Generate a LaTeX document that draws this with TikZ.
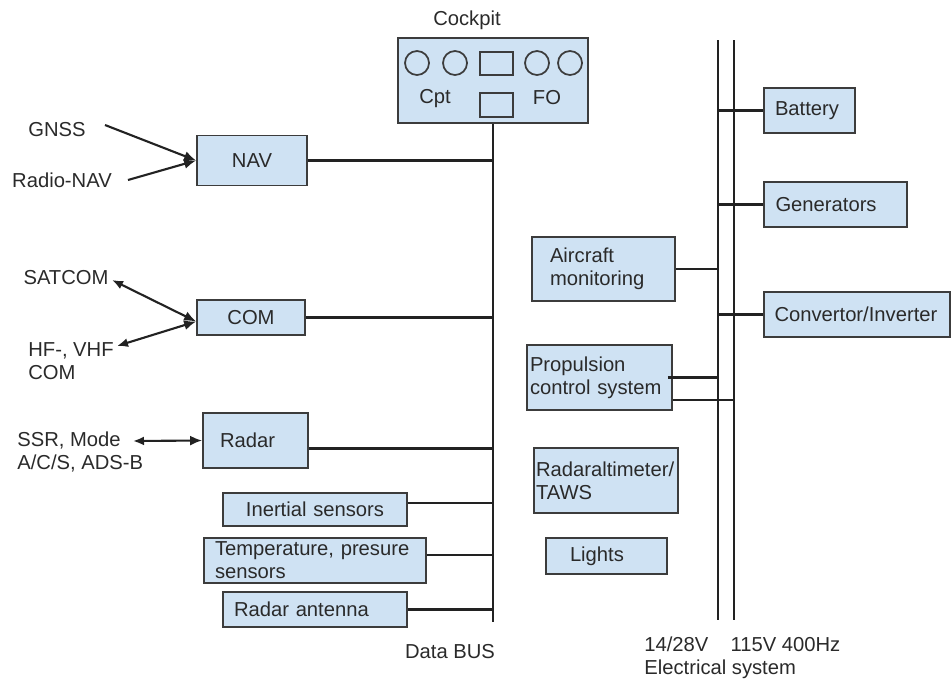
\documentclass[tikz,border=0pt]{standalone}
\usepackage{fontspec}
\setmainfont{Liberation Sans}
\usepackage{tikz}
\usetikzlibrary{positioning,arrows.meta}
\definecolor{boxfill}{HTML}{CFE2F3}
\definecolor{boxline}{HTML}{3C3C3C}
\definecolor{wirecol}{HTML}{222222}
\definecolor{ink}{HTML}{2A2A2A}
\newcommand{\txt}{\fontsize{11.5}{13.1}\selectfont}
\tikzset{
  block/.style={rectangle, draw=boxline, fill=boxfill, line width=1pt,
                font=\txt, text=ink, align=left, inner ysep=0pt},
  knob/.style={circle, draw=boxline, line width=1pt, minimum size=4.8mm, inner sep=0pt},
  screen/.style={rectangle, draw=boxline, line width=1pt, minimum width=6.6mm,
                 minimum height=4.6mm, inner sep=0pt},
  tag/.style={font=\txt, text=ink, align=left, inner sep=0pt},
  wire/.style={draw=wirecol, line width=1.2pt},
  arr/.style={wire, -{Latex[length=2.4mm,width=2mm]}},
  biarr/.style={wire, {Latex[length=2.2mm,width=1.8mm]}-{Latex[length=2.4mm,width=2mm]}},
}

\begin{document}
\begin{tikzpicture}[x=0.2mm, y=-0.2mm]
    \useasboundingbox (0,0) rectangle (951,679);
    % cockpit panel
    \node[tag] (cockpittag) at (467,20) {Cockpit};
    \node[block, minimum width=38mm, minimum height=17mm] (cockpit) at (493,80.5) {};
    \node[knob] (k1) at (417,63) {};
    \node[knob] (k2) at (455,63) {};
    \node[screen] (scr1) at (496.5,63.5) {};
    \node[knob] (k3) at (537,63) {};
    \node[knob] (k4) at (570,63) {};
    \node[screen, minimum height=4.8mm] (scr2) at (496.5,105) {};
    \node[tag] (cpt) at (435,99) {Cpt};
    \node[tag] (fo) at (547,98) {FO};

    % avionics on the data bus
    \node[block, text width=22mm, inner xsep=0pt, align=center, minimum height=10mm] (nav) at (252,160.5) {NAV};
    \node[block, text width=21.6mm, inner xsep=0pt, align=center, minimum height=7mm] (com) at (251,317.5) {COM};
    \node[block, text width=14.2mm, inner xsep=3.4mm, minimum height=11mm] (radar) at (255.5,440.5) {Radar};
    \node[block, text width=36.8mm, inner xsep=0pt, align=center, minimum height=6.6mm] (inertial) at (315,509.5) {Inertial sensors};
    \node[block, text width=40mm, inner xsep=2.2mm, minimum height=9mm] (temp) at (315,560.5) {Temperature, presure\\sensors};
    \node[block, text width=32.4mm, inner xsep=2.2mm, minimum height=7mm] (antenna) at (315,609.5) {Radar antenna};

    \coordinate (busend) at (493,622);
    \node[tag] (databus) at (450,652) {Data BUS};

    % outside links
    \node[tag] (gnss) at (57,130) {GNSS};
    \node[tag] (radionav) at (62,180) {Radio-NAV};
    \node[tag] (satcom) at (66,278) {SATCOM};
    \node[tag, anchor=west] (hfvhf) at (28,361) {HF-, VHF\\COM};
    \node[tag, anchor=west] (ssr) at (17,451.5) {SSR, Mode\\A/C/S, ADS-B};
    \coordinate (gnsstail) at (105,125);
    \coordinate (radiotail) at (128,180);
    \coordinate (sattail) at (112,280);
    \coordinate (hftail) at (117,346);
    \coordinate (ssrtail) at (133,441);

    % electrical side
    \coordinate (lvtop) at (718,40);
    \coordinate (lvbot) at (718,620);
    \coordinate (hvtop) at (734,40);
    \coordinate (hvbot) at (734,620);
    \node[block, text width=13.8mm, inner xsep=2.2mm, minimum height=9mm] (battery) at (809.5,110.5) {Battery};
    \node[block, text width=24mm, inner xsep=2.3mm, minimum height=9mm] (generators) at (835.5,204.5) {Generators};
    \node[block, text width=33mm, inner xsep=2.1mm, minimum height=9mm] (convertor) at (857,314.5) {Convertor/Inverter};
    \node[block, text width=21.4mm, inner xsep=3.6mm, minimum height=12.8mm] (monitoring) at (603.5,269) {Aircraft\\monitoring};
    \node[block, text width=27.8mm, inner xsep=0.6mm, minimum height=13mm] (propulsion) at (599.5,377.5) {Propulsion\\control system};
    \node[block, text width=28mm, inner xsep=0.4mm, minimum height=13mm] (taws) at (606,480.5) {Radaraltimeter/\\TAWS};
    \node[block, text width=14.6mm, inner xsep=4.8mm, minimum height=7.2mm] (lights) at (606.5,556) {\raisebox{-0.6mm}{Lights}};
    \node[tag, anchor=west] (elec) at (644,658) {14/28V\hspace{1.1em}115V 400Hz\\Electrical system};

    % data bus
    \draw[wire] (cockpit.south) -- (busend);
    \draw[wire] (nav.east) -- (nav.east -| busend);
    \draw[wire] (com.east) -- (com.east -| busend);
    \draw[wire] ([yshift=-1.6mm]radar.east) -- ([yshift=-1.6mm]radar.east -| busend);
    \draw[wire] ([yshift=1.3mm]inertial.east) -- ([yshift=1.3mm]inertial.east -| busend);
    \draw[wire] ([yshift=1.1mm]temp.east) -- ([yshift=1.1mm]temp.east -| busend);
    \draw[wire] (antenna.east) -- (antenna.east -| busend);

    % arrows in
    \draw[arr] (gnsstail) -- (nav.west);
    \draw[arr] (radiotail) -- (nav.west);
    \draw[biarr] (sattail) -- ([yshift=-0.8mm]com.west);
    \draw[biarr] (hftail) -- ([yshift=-0.8mm]com.west);
    \draw[biarr] (ssrtail) -- (radar.west);

    % power bus
    \draw[wire] (lvtop) -- (lvbot);
    \draw[wire] (hvtop) -- (hvbot);
    \draw[wire] (battery.west -| lvtop) -- (battery.west);
    \draw[wire] (generators.west -| lvtop) -- (generators.west);
    \draw[wire] (convertor.west -| lvtop) -- (convertor.west);
    \draw[wire] (monitoring.east) -- (monitoring.east -| lvtop);
    \draw[wire] ([xshift=-1mm]propulsion.east) -- (propulsion.east -| lvtop);
    \draw[wire] ([yshift=-4.5mm]propulsion.east) -- ([yshift=-4.5mm]propulsion.east -| hvtop);
\end{tikzpicture}
\end{document}
